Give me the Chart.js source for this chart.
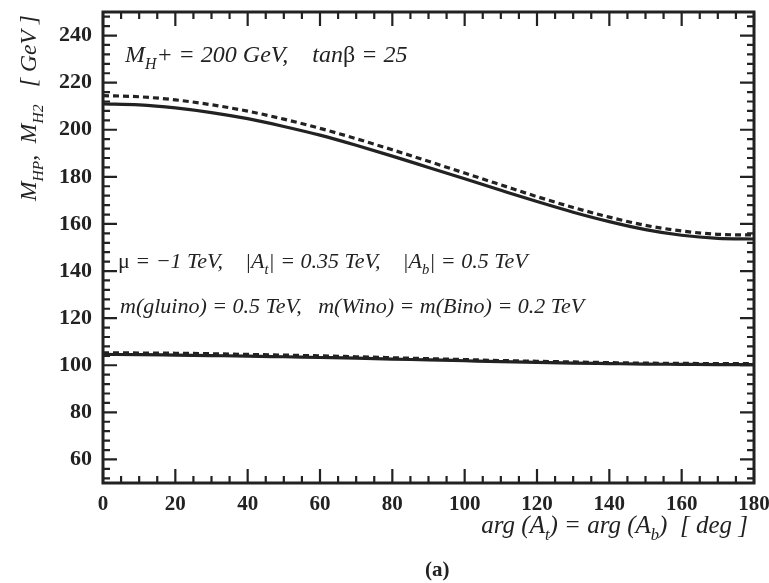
<!DOCTYPE html>
<html>
<head>
<meta charset="utf-8">
<script src="https://cdn.jsdelivr.net/npm/chart.js@4/dist/chart.umd.min.js"></script>
<style>
  html, body { margin: 0; padding: 0; background: #fff; }
  #wrap { width: 769px; height: 583px; position: relative; }
</style>
</head>
<body>
<div id="wrap"><canvas id="c" width="769" height="583"></canvas></div>
<script>
// Phase angle arg(A_t) = arg(A_b), degrees
const angleDeg = [0, 10, 20, 30, 40, 50, 60, 70, 80, 90, 100, 110, 120, 130, 140, 150, 160, 170, 180];

// Heavier neutral Higgs mass, GeV
const heavySolid  = [211.0, 210.6, 209.3, 207.3, 204.7, 201.4, 197.7, 193.4, 188.8, 184.0, 179.2, 174.3, 169.5, 165.0, 161.0, 157.6, 155.2, 153.9, 153.6];
const heavyDashed = [214.5, 214.0, 212.7, 210.6, 207.9, 204.5, 200.6, 196.2, 191.5, 186.6, 181.6, 176.6, 171.6, 167.0, 162.9, 159.4, 157.0, 155.6, 155.3];

// Lighter neutral Higgs mass, GeV
const lightSolid  = [104.6, 104.5, 104.3, 104.1, 103.9, 103.6, 103.3, 103.0, 102.6, 102.3, 101.9, 101.5, 101.2, 100.9, 100.7, 100.5, 100.4, 100.3, 100.3];
const lightDashed = [105.3, 105.2, 105.1, 104.9, 104.6, 104.3, 104.0, 103.6, 103.2, 102.8, 102.4, 102.0, 101.7, 101.4, 101.1, 100.9, 100.8, 100.7, 100.7];

// Axis tick labels
const xTickLabels = [0, 20, 40, 60, 80, 100, 120, 140, 160, 180];
const yTickLabels = [60, 80, 100, 120, 140, 160, 180, 200, 220, 240];

const INK = '#222';
const SERIF = '"Liberation Serif", "DejaVu Serif", serif';

const toPoints = ys => angleDeg.map((x, i) => ({ x, y: ys[i] }));

function lineSet(values, dashed) {
  return {
    data: toPoints(values),
    borderColor: INK,
    borderWidth: 3.2,
    borderDash: dashed ? [6, 4] : [],
    pointRadius: 0,
    fill: false,
    tension: 0.4,
    cubicInterpolationMode: 'monotone'
  };
}

// Draw a run of italic text with optional subscripts / upright glyphs
function drawRich(ctx, x, y, parts, size, align) {
  const fontFor = p => {
    const s = p.sub ? size * 0.66 : size;
    return (p.up ? '' : 'italic ') + s + 'px ' + SERIF;
  };
  const items = parts.map(p => typeof p === 'string' ? { t: p } : p);
  let total = 0;
  for (const p of items) { ctx.font = fontFor(p); total += ctx.measureText(p.t).width; }
  if (align === 'right') x -= total;
  for (const p of items) {
    ctx.font = fontFor(p);
    ctx.fillText(p.t, x, y + (p.sub ? size * 0.28 : 0));
    x += ctx.measureText(p.t).width;
  }
}

// Frame with inward major/minor ticks on all four sides
const frameTicks = {
  id: 'frameTicks',
  afterDatasetsDraw(chart) {
    const { ctx, chartArea: a, scales: { x, y } } = chart;
    ctx.save();
    ctx.strokeStyle = INK;
    ctx.lineWidth = 3;
    ctx.strokeRect(a.left, a.top, a.right - a.left, a.bottom - a.top);
    ctx.lineWidth = 2.2;
    ctx.beginPath();
    for (let v = 0; v <= 180; v += 5) {
      const px = x.getPixelForValue(v);
      const len = v % 20 === 0 ? 14 : 7;
      ctx.moveTo(px, a.bottom); ctx.lineTo(px, a.bottom - len);
      ctx.moveTo(px, a.top); ctx.lineTo(px, a.top + len);
    }
    for (let v = 52; v <= 248; v += 4) {
      const py = y.getPixelForValue(v);
      const len = v % 20 === 0 ? 14 : 7;
      ctx.moveTo(a.left, py); ctx.lineTo(a.left + len, py);
      ctx.moveTo(a.right, py); ctx.lineTo(a.right - len, py);
    }
    ctx.stroke();
    ctx.restore();
  }
};

// Parameter annotations and axis titles
const labels = {
  id: 'labels',
  afterDraw(chart) {
    const ctx = chart.ctx;
    ctx.save();
    ctx.fillStyle = INK;
    ctx.textBaseline = 'alphabetic';

    drawRich(ctx, 125, 62, ['M', { t: 'H', sub: true }, '+ = 200 GeV,    tan', { t: 'β', up: true }, ' = 25'], 24);
    drawRich(ctx, 118, 268, [{ t: 'μ', up: true }, ' = −1 TeV,    |A', { t: 't', sub: true }, '| = 0.35 TeV,    |A', { t: 'b', sub: true }, '| = 0.5 TeV'], 22);
    drawRich(ctx, 120, 313, ['m(gluino) = 0.5 TeV,   m(Wino) = m(Bino) = 0.2 TeV'], 22);

    drawRich(ctx, 748, 533, ['arg (A', { t: 't', sub: true }, ') = arg (A', { t: 'b', sub: true }, ')  [ deg ]'], 25, 'right');

    ctx.font = 'bold 21px ' + SERIF;
    ctx.textAlign = 'left';
    ctx.fillText('(a)', 425, 576);

    ctx.translate(36, 201);
    ctx.rotate(-Math.PI / 2);
    drawRich(ctx, 0, 0, ['M', { t: 'HP', sub: true }, ',  M', { t: 'H2', sub: true }, '   [ GeV ]'], 23.5);
    ctx.restore();
  }
};

new Chart(document.getElementById('c'), {
  type: 'line',
  data: {
    datasets: [
      lineSet(heavyDashed, true),
      lineSet(heavySolid, false),
      lineSet(lightDashed, true),
      lineSet(lightSolid, false)
    ]
  },
  options: {
    responsive: false,
    animation: false,
    devicePixelRatio: 1,
    layout: { padding: { top: 12, right: 15, left: 0, bottom: 0 } },
    plugins: { legend: { display: false }, tooltip: { enabled: false } },
    scales: {
      x: {
        type: 'linear',
        min: 0, max: 180,
        afterBuildTicks: s => { s.ticks = xTickLabels.map(v => ({ value: v })); },
        afterFit: s => { s.height = 100; s.paddingLeft = 0; s.paddingRight = 0; },
        grid: { display: false, drawTicks: false },
        border: { display: false },
        ticks: { color: INK, font: { family: SERIF, size: 21, weight: 'bold' }, padding: 9, maxRotation: 0, autoSkip: false }
      },
      y: {
        type: 'linear',
        min: 50, max: 250,
        afterBuildTicks: s => { s.ticks = yTickLabels.map(v => ({ value: v })); },
        afterFit: s => { s.width = 103; s.paddingTop = 0; s.paddingBottom = 0; },
        grid: { display: false, drawTicks: false },
        border: { display: false },
        ticks: { color: INK, font: { family: SERIF, size: 22, weight: 'bold' }, padding: 11 }
      }
    }
  },
  plugins: [frameTicks, labels]
});
</script>
</body>
</html>
